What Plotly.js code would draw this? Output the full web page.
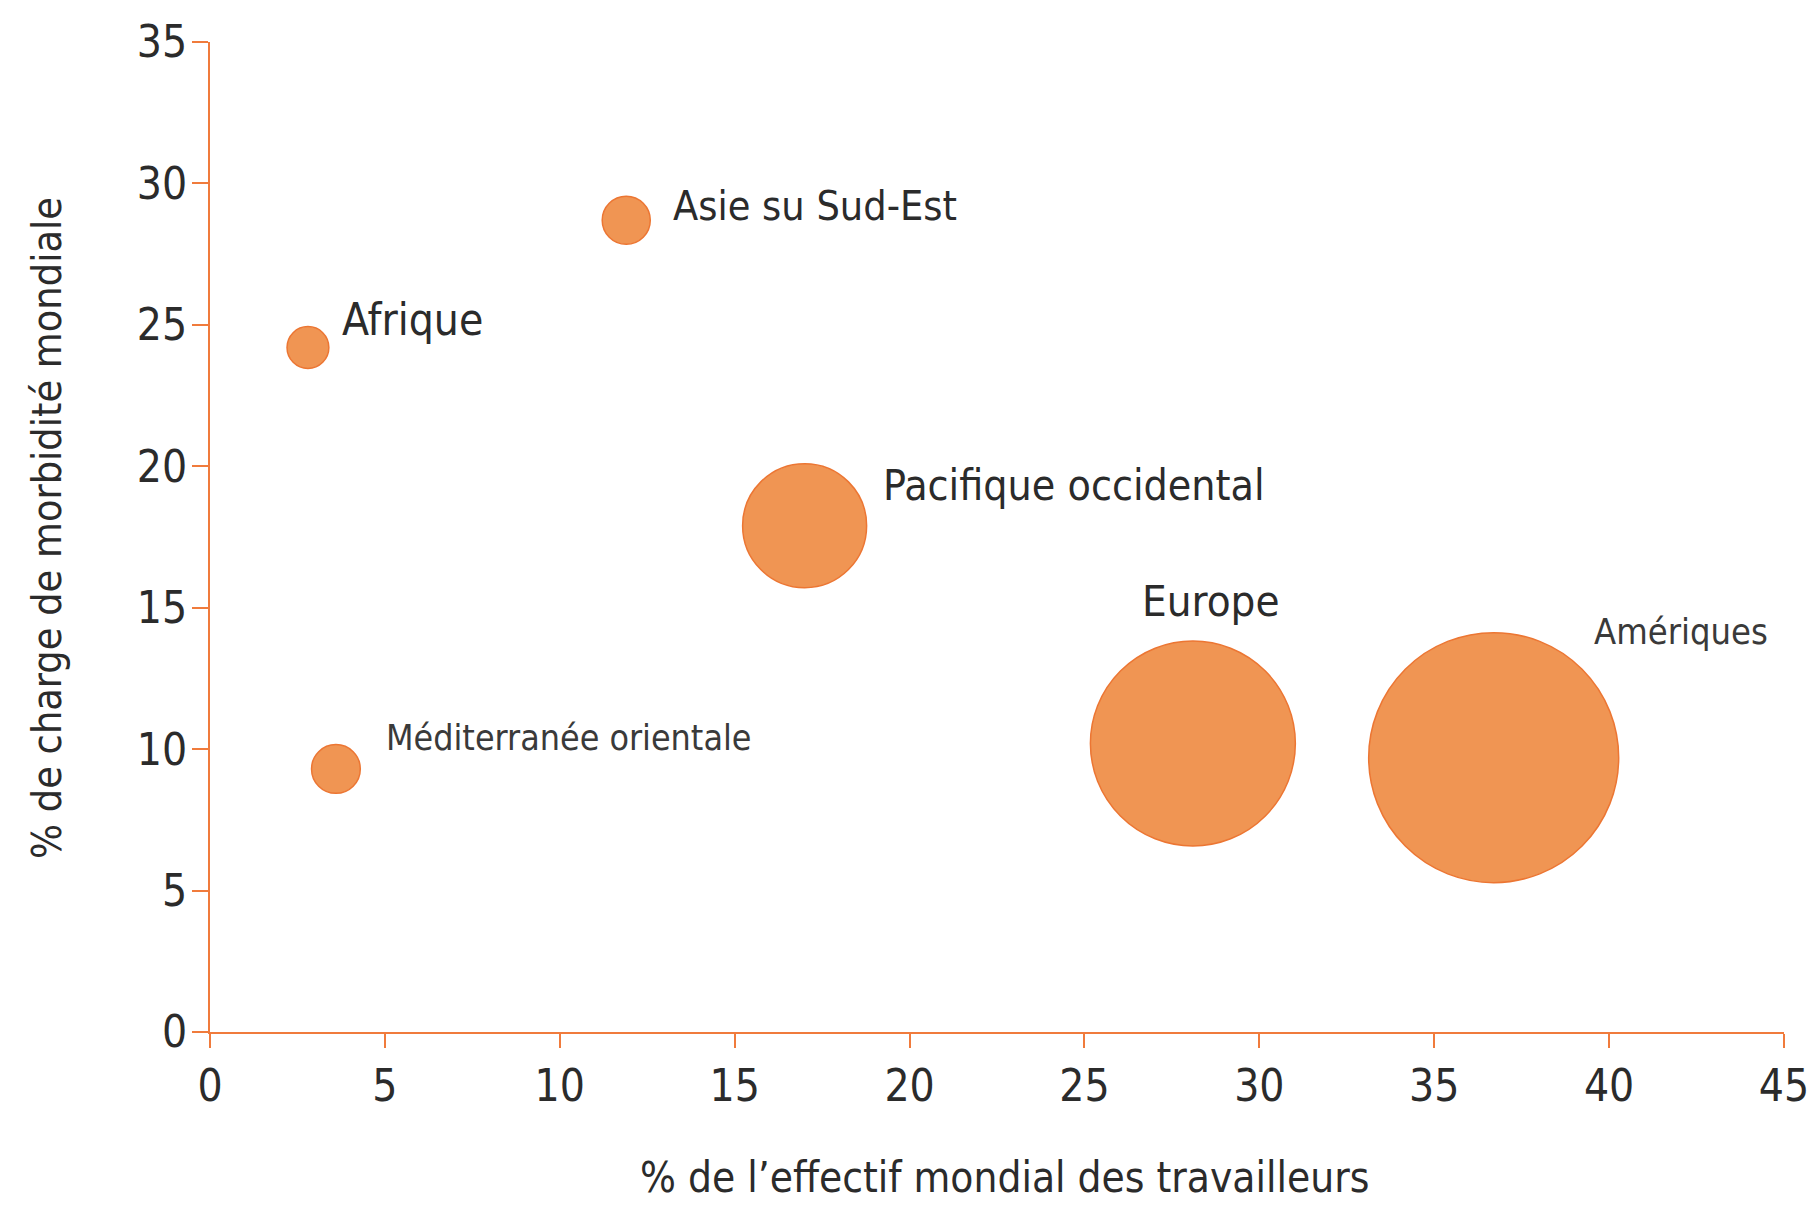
<!DOCTYPE html>
<html>
<head>
<meta charset="utf-8">
<script src="https://cdn.plot.ly/plotly-3.0.1.min.js"></script>
<style>
  html, body { margin: 0; padding: 0; background: #ffffff; }
  #chart { width: 1815px; height: 1207px; }
</style>
</head>
<body>
<div id="chart"></div>
<script>
// Regions of the world and their values
const regions = ["Afrique", "Asie su Sud-Est", "Méditerranée orientale",
                 "Pacifique occidental", "Europe", "Amériques"];
const workforceShare = [2.8, 11.9, 3.6, 17.0, 28.1, 36.7];   // % de l'effectif mondial des travailleurs
const diseaseShare = [24.2, 28.7, 9.3, 17.9, 10.2, 9.7];      // % de charge de morbidité mondiale
const bubbleValue = [2.8, 3.7, 3.8, 24.6, 67.2, 100];          // relative bubble area

const xTicks = [0, 5, 10, 15, 20, 25, 30, 35, 40, 45];
const yTicks = [0, 5, 10, 15, 20, 25, 30, 35];

const xTitle = "% de l’effectif mondial des travailleurs";
const yTitle = "% de charge de morbidité mondiale";

const orange = '#F07B3C';
const textColor = '#2b2b2b';
const fontFamily = '"Liberation Sans Narrow", "DejaVu Sans Condensed", "Roboto", sans-serif';

// label placement relative to each bubble (pixels), same order as regions
const labelStyle = [
    {dx: 32, dy: 28, anchor: 'left', size: 44, color: textColor},
    {dx: 45, dy: 14, anchor: 'left', size: 41, color: textColor},
    {dx: 48, dy: 31, anchor: 'left', size: 35.5, color: '#3a3a3a'},
    {dx: 76, dy: 40, anchor: 'left', size: 42.5, color: textColor},
    {dx: 18, dy: 142, anchor: 'center', size: 43.5, color: textColor},
    {dx: 98, dy: 126, anchor: 'left', size: 36, color: '#3a3a3a'}
];

const maxDiameter = 250;

var trace = {
    x: workforceShare,
    y: diseaseShare,
    text: regions,
    mode: 'markers',
    type: 'scatter',
    hoverinfo: 'text',
    cliponaxis: false,
    marker: {
        size: bubbleValue,
        sizemode: 'area',
        sizeref: 2.0 * Math.max(...bubbleValue) / (maxDiameter * maxDiameter),
        color: '#F09553',
        opacity: 1,
        line: {color: '#EC7633', width: 1.5}
    }
};

var annotations = regions.map(function(name, i){
    let s = labelStyle[i];
    return {
        x: workforceShare[i],
        y: diseaseShare[i],
        xref: 'x',
        yref: 'y',
        text: name,
        showarrow: false,
        xanchor: s.anchor,
        yanchor: 'middle',
        xshift: s.dx,
        yshift: s.dy,
        font: {family: fontFamily, size: s.size, color: s.color}
    };
});

// axis titles placed as annotations for exact positioning
annotations.push({
    x: 0.5, y: 0, xref: 'paper', yref: 'paper',
    xanchor: 'center', yanchor: 'middle',
    xshift: 7, yshift: -145,
    showarrow: false,
    text: xTitle,
    font: {family: fontFamily, size: 42, color: textColor}
});
annotations.push({
    x: 0, y: 0.5, xref: 'paper', yref: 'paper',
    xanchor: 'center', yanchor: 'middle',
    xshift: -163, yshift: 9,
    textangle: -90,
    showarrow: false,
    text: yTitle,
    font: {family: fontFamily, size: 41, color: textColor}
});

var layout = {
    width: 1815,
    height: 1207,
    paper_bgcolor: '#ffffff',
    plot_bgcolor: '#ffffff',
    showlegend: false,
    margin: {l: 210, r: 31, t: 42, b: 175, pad: 0},
    font: {family: fontFamily, color: textColor},
    xaxis: {
        range: [0, 45],
        tickvals: xTicks,
        ticktext: xTicks.map(String),
        showgrid: false,
        zeroline: false,
        showline: true,
        linecolor: orange,
        linewidth: 2,
        ticks: 'outside',
        ticklen: 14,
        tickwidth: 2,
        tickcolor: orange,
        ticklabelstandoff: 0,
        tickfont: {family: fontFamily, size: 44, color: textColor}
    },
    yaxis: {
        range: [0, 35],
        tickvals: yTicks,
        ticktext: yTicks.map(String),
        showgrid: false,
        zeroline: false,
        showline: true,
        linecolor: orange,
        linewidth: 2,
        ticks: 'outside',
        ticklen: 16,
        tickwidth: 2,
        tickcolor: orange,
        ticklabelstandoff: -4,
        tickfont: {family: fontFamily, size: 44, color: textColor}
    },
    annotations: annotations
};

Plotly.newPlot('chart', [trace], layout, {displayModeBar: false, staticPlot: true});
</script>
</body>
</html>
